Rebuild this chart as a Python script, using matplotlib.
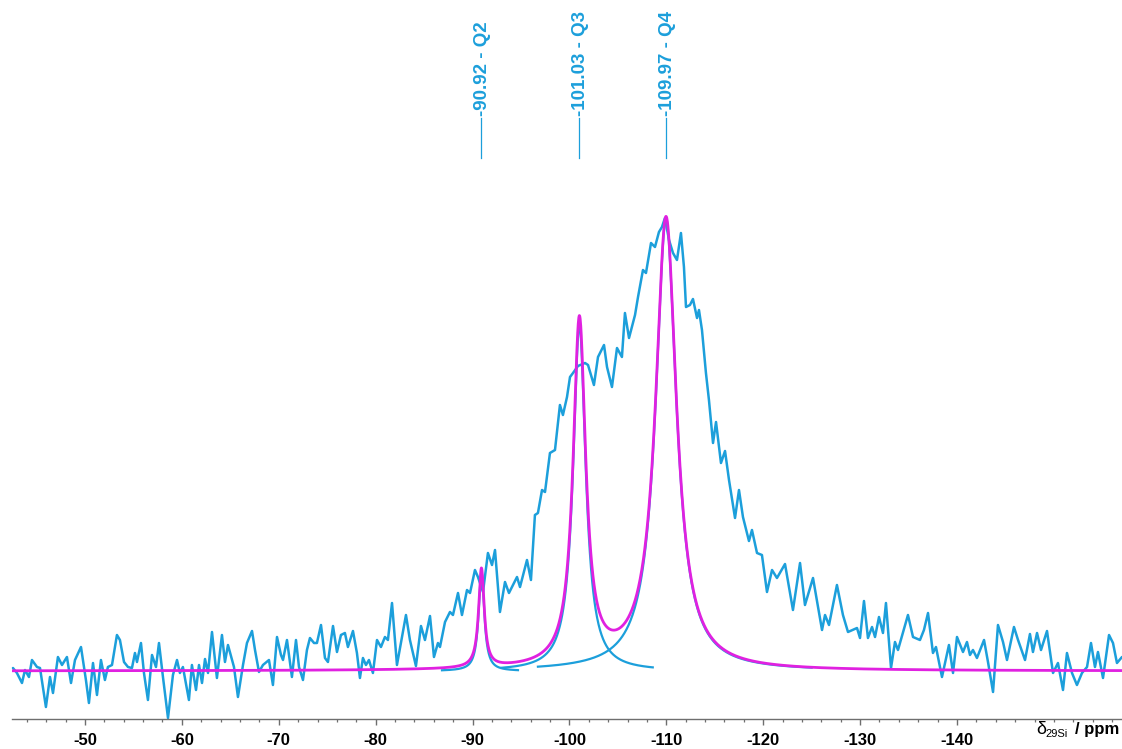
import numpy as np
import matplotlib
matplotlib.use("Agg")
import matplotlib.pyplot as plt

plt.rcParams['font.family'] = ['Liberation Sans', 'DejaVu Sans']

# ---------------- data ----------------
# experimental 29Si spectrum (ppm, intensity a.u.)
spec_ppm = [
    -42.57, -42.98, -43.50, -43.81, -44.22, -44.53, -45.05, -45.36, -45.97, -46.39,
    -46.70, -47.21, -47.63, -48.14, -48.56, -48.97, -49.59, -50.10, -50.41, -50.83,
    -51.24, -51.65, -52.06, -52.37, -52.79, -53.30, -53.61, -54.03, -54.44, -54.85,
    -55.16, -55.37, -55.78, -56.09, -56.50, -56.92, -57.33, -57.64, -58.05, -58.57,
    -59.08, -59.50, -59.80, -60.11, -60.73, -61.04, -61.46, -61.77, -62.08, -62.39,
    -62.70, -63.11, -63.62, -64.14, -64.45, -64.76, -65.38, -65.79, -66.31, -66.72,
    -67.24, -67.55, -67.96, -68.37, -68.99, -69.40, -69.82, -70.23, -70.44, -70.85,
    -71.36, -71.78, -72.09, -72.50, -72.91, -73.22, -73.64, -73.94, -74.36, -74.77,
    -75.08, -75.60, -76.01, -76.42, -76.83, -77.14, -77.66, -78.07, -78.38, -78.69,
    -79.00, -79.31, -79.72, -80.14, -80.55, -80.96, -81.27, -81.69, -82.20, -83.13,
    -83.54, -84.16, -84.68, -85.09, -85.61, -86.02, -86.43, -86.64, -87.16, -87.67,
    -87.98, -88.50, -88.91, -89.43, -89.74, -90.25, -90.56, -91.08, -91.59, -92.01,
    -92.32, -92.83, -93.35, -93.76, -94.59, -94.90, -95.62, -96.03, -96.44, -96.75,
    -97.17, -97.48, -97.99, -98.51, -99.02, -99.33, -99.75, -100.06, -100.37, -100.88,
    -101.61, -101.92, -102.53, -102.95, -103.57, -103.88, -104.39, -104.91, -105.42, -105.73,
    -106.15, -106.77, -107.08, -107.59, -107.90, -108.42, -108.83, -109.24, -109.55, -109.86,
    -110.28, -110.69, -111.10, -111.51, -111.82, -112.03, -112.44, -112.75, -113.17, -113.37,
    -113.68, -114.09, -114.40, -114.82, -115.13, -115.64, -116.06, -116.47, -117.09, -117.50,
    -117.91, -118.53, -118.84, -119.36, -119.87, -120.39, -120.91, -121.42, -122.25, -123.07,
    -123.80, -124.31, -125.14, -126.07, -126.38, -126.79, -127.61, -128.23, -128.75, -129.68,
    -129.99, -130.40, -130.81, -131.23, -131.54, -131.95, -132.36, -132.67, -133.19, -133.60,
    -133.91, -134.94, -135.46, -136.18, -136.59, -137.01, -137.52, -137.83, -138.45, -139.17,
    -139.59, -140.00, -140.62, -141.03, -141.34, -141.65, -142.06, -142.79, -143.20, -143.72,
    -144.23, -144.75, -145.16, -145.88, -146.30, -147.02, -147.53, -147.84, -148.26, -148.67,
    -149.29, -149.91, -150.42, -150.94, -151.35, -151.87, -152.38, -152.90, -153.42, -153.83,
    -154.24, -154.55, -155.07, -155.69, -156.10, -156.51, -157.03,
]
spec_int = [
    3, -2, -12, 1, -6, 11, 4, 3, -36, -6,
    -22, 14, 6, 14, -12, 11, 24, -9, -32, 8,
    -24, 11, -9, 4, 6, 36, 31, 9, 4, 3,
    18, 9, 28, -2, -29, 16, 4, 28, -6, -47,
    -4, 11, -2, 4, -29, 6, -19, 6, -12, 12,
    -2, 39, -7, 36, 9, 26, 4, -26, 6, 28,
    40, 21, -1, 6, 11, -14, 34, 16, 11, 31,
    -6, 31, 4, -9, 21, 33, 28, 28, 46, 13,
    9, 45, 19, 36, 38, 24, 40, 18, -7, 13,
    6, 11, -2, 31, 24, 34, 31, 68, 6, 56,
    31, 5, 45, 31, 55, 14, 28, 24, 49, 59,
    56, 78, 56, 81, 78, 101, 94, 79, 118, 106,
    121, 59, 89, 78, 94, 84, 111, 91, 156, 158,
    181, 179, 218, 221, 266, 256, 274, 294, 298, 305,
    308, 306, 286, 314, 326, 304, 284, 323, 314, 358,
    333, 356, 374, 401, 398, 428, 424, 439, 444, 453,
    431, 418, 411, 438, 404, 364, 366, 372, 353, 361,
    341, 298, 271, 228, 249, 208, 220, 191, 153, 181,
    154, 130, 141, 118, 116, 79, 101, 93, 107, 61,
    108, 66, 93, 41, 56, 46, 86, 56, 39, 43,
    33, 70, 33, 44, 34, 54, 38, 68, 3, 29,
    21, 56, 34, 31, 41, 58, 18, 24, -6, 26,
    -2, 34, 19, 29, 16, 21, 13, 31, 9, -21,
    46, 29, 11, 44, 31, 11, 37, 19, 38, 21,
    40, -2, 8, -19, 18, -2, -14, -2, 4, 28,
    4, 19, -7, 36, 28, 8, 14,
]

# Lorentzian deconvolution
peak_names = ["Q2", "Q3", "Q4"]
peak_ppm = [-90.92, -101.03, -109.97]
peak_height = [99, 346, 452]
peak_hwhm = [0.35, 0.78, 1.30]
comp_from = [-86.85, -93.0, -96.75]
comp_to = [-94.69, -108.6, -125.0]

# axis
x_left, x_right = -42.47, -157.03
y_bottom, y_top = -48, 671
major_ticks = list(range(-50, -141, -10))
minor_ticks = list(range(-44, -157, -2))

CYAN = "#1c9fdb"
MAGENTA = "#e021e0"


def lorentz(x, c, h, w):
    return h / (1.0 + ((x - c) / w) ** 2)


fig = plt.figure(figsize=(11.22, 7.49), dpi=100)
ax = fig.add_axes([12 / 1122, 30 / 749, 1110 / 1122, 719 / 749])

# experimental spectrum
ax.plot(spec_ppm, spec_int, color=CYAN, lw=1.8, solid_joinstyle="round",
        solid_capstyle="round", zorder=2, clip_on=False)

# individual components
for c, h, w, a, b in zip(peak_ppm, peak_height, peak_hwhm, comp_from, comp_to):
    xx = np.linspace(a, b, 400)
    ax.plot(xx, lorentz(xx, c, h, w), color=CYAN, lw=1.6, zorder=3)

# sum of fit
xf = np.linspace(x_left, x_right, 4000)
yf = np.zeros_like(xf)
for c, h, w in zip(peak_ppm, peak_height, peak_hwhm):
    yf += lorentz(xf, c, h, w)
ax.plot(xf, yf, color=MAGENTA, lw=2.0, zorder=4)

# peak labels
for c, n in zip(peak_ppm, peak_names):
    ax.plot([c, c], [513, 553], color=CYAN, lw=0.9, zorder=5)
    ax.text(c - 0.15, 555, f"{c:.2f} - {n}", rotation=90, ha="center", va="bottom",
            color=CYAN, fontsize=13.5, fontweight="bold")

ax.set_xlim(x_left, x_right)
ax.set_ylim(y_bottom, y_top)
for s in ["left", "right", "top"]:
    ax.spines[s].set_visible(False)
ax.spines["bottom"].set_color("#6e6e6e")
ax.spines["bottom"].set_linewidth(1.0)
ax.set_yticks([])
ax.set_xticks(major_ticks)
ax.set_xticklabels([str(t) for t in major_ticks], fontsize=12, fontweight="bold")
ax.set_xticks(minor_ticks, minor=True)
ax.tick_params(axis="x", which="major", direction="out", length=4.5, width=1.0,
               color="#6e6e6e", pad=5.5)
ax.tick_params(axis="x", which="minor", direction="out", length=2.2, width=0.9,
               color="#6e6e6e")

# axis label pieces
fig.text(1036 / 1122, (749 - 734) / 749, "δ", fontsize=13, ha="left", va="baseline", color="black")
fig.text(1045 / 1122, (749 - 737) / 749, "29Si", fontsize=8, ha="left", va="baseline", color="black")
fig.text(1119 / 1122, (749 - 734) / 749, "/ ppm", fontsize=12, fontweight="bold", ha="right",
         va="baseline", color="black")

fig.savefig("out.png", dpi=100)
